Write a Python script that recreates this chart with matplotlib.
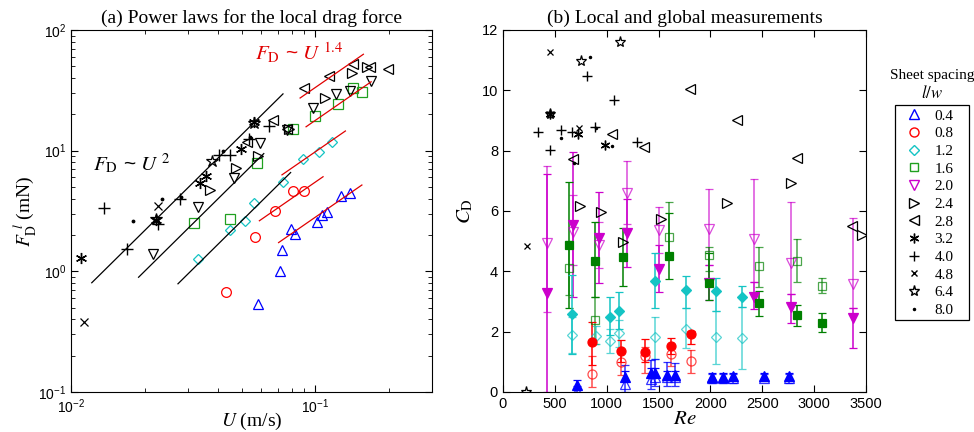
import numpy as np
import matplotlib
matplotlib.use('Agg')
import matplotlib.pyplot as plt
from matplotlib.lines import Line2D
from matplotlib.patches import Rectangle

plt.rcParams['font.family'] = ['Liberation Sans', 'DejaVu Sans']
plt.rcParams['mathtext.fontset'] = 'stix'
plt.rcParams['xtick.direction'] = 'in'
plt.rcParams['ytick.direction'] = 'in'
plt.rcParams['xtick.top'] = True
plt.rcParams['ytick.right'] = True
serif = ['Liberation Serif', 'DejaVu Serif']

# ---- (a) local drag force vs U, per sheet spacing ----
a_U_04 = [0.0585, 0.0714, 0.0730, 0.0796, 0.0828, 0.1011, 0.1066, 0.1117, 0.1268, 0.1383]
a_F_04 = [0.535, 1.00, 1.50, 2.23, 2.04, 2.58, 2.93, 3.12, 4.22, 4.49]
a_U_08 = [0.0431, 0.0567, 0.0681, 0.0813, 0.0901]
a_F_08 = [0.67, 1.94, 3.18, 4.66, 4.66]
a_U_12 = [0.0330, 0.0448, 0.0517, 0.0559, 0.0737, 0.0886, 0.1033, 0.1165]
a_F_12 = [1.26, 2.20, 2.63, 3.66, 5.54, 8.5, 9.8, 11.9]
a_U_16 = [0.0320, 0.0446, 0.0577, 0.0807, 0.0994, 0.1237, 0.1423, 0.1551]
a_F_16 = [2.50, 2.72, 7.87, 15.1, 19.4, 24.5, 33.0, 30.4]
a_U_20 = [0.0216, 0.0332, 0.0463, 0.0595, 0.0765, 0.0982, 0.1217, 0.1389, 0.1695]
a_F_20 = [1.39, 3.43, 5.9, 11.5, 14.7, 22.5, 29.3, 31.5, 37.9]
a_U_24 = [0.0371, 0.0474, 0.0585, 0.0780, 0.1100, 0.1412, 0.1630]
a_F_24 = [4.73, 7.25, 9.1, 15.0, 27.3, 43.6, 49.0]
a_U_28 = [0.0526, 0.0670, 0.0765, 0.0900, 0.1134, 0.1423, 0.1673, 0.1976]
a_F_28 = [11.9, 17.8, 15.1, 33.0, 41.9, 52.0, 49.2, 47.4]
a_U_32 = [0.0110, 0.0223, 0.0336, 0.0357, 0.0497, 0.0563]
a_F_32 = [1.28, 2.66, 5.37, 6.2, 10.3, 17.4]
a_U_40 = [0.01365, 0.01692, 0.0226, 0.0280, 0.0405, 0.0446, 0.0533, 0.0643]
a_F_40 = [3.33, 1.52, 2.47, 3.98, 9.2, 9.2, 12.5, 16.1]
a_U_48 = [0.0113, 0.0226]
a_F_48 = [0.377, 3.45]
a_U_64 = [0.0223, 0.0377, 0.0563]
a_F_64 = [2.70, 8.25, 17.1]
a_U_80 = [0.0179, 0.0235, 0.0282, 0.0418, 0.0541]
a_F_80 = [2.63, 3.97, 4.16, 9.97, 13.1]

# fitted power laws F = C*U^n over a U range
fit2_C = [5437, 2500, 1050]
fit2_U0 = [0.01216, 0.0189, 0.0274]
fit2_U1 = [0.0737, 0.0615, 0.0792]
fit14_C = [839, 448, 246, 138, 70.6]
fit14_U0 = [0.0866, 0.0916, 0.0730, 0.0590, 0.0707]
fit14_U1 = [0.1572, 0.1691, 0.1327, 0.1075, 0.1550]

# ---- (b) drag coefficient vs Re ----
# colored series: open = global, filled = local; bars given as low/high ends
b_Re_04 = [717, 1176, 1427, 1466, 1584, 1659, 2013, 2119, 2221, 2517, 2758]
b_o04 = [0.03, 0.25, 0.42, 0.51, 0.49, 0.50, 0.45, 0.45, 0.45, 0.48, 0.45]
b_o04_lo = [0.0, 0.0, 0.1, 0.2, 0.2, 0.2, 0.3, 0.3, 0.3, 0.35, 0.3]
b_o04_hi = [0.2, 0.9, 1.05, 1.1, 1.0, 0.95, 0.6, 0.6, 0.6, 0.6, 0.6]
b_f04 = [0.23, 0.51, 0.64, 0.64, 0.56, 0.56, 0.51, 0.51, 0.53, 0.53, 0.53]
b_f04_lo = [0.1, 0.35, 0.5, 0.5, 0.4, 0.4, 0.4, 0.4, 0.4, 0.42, 0.4]
b_f04_hi = [0.4, 0.7, 0.8, 0.8, 0.7, 0.7, 0.62, 0.62, 0.64, 0.64, 0.64]

b_Re_08 = [861, 1138, 1369, 1617, 1810]
b_o08 = [0.60, 1.01, 1.19, 1.26, 1.03]
b_o08_lo = [0.18, 0.56, 0.62, 0.86, 0.62]
b_o08_hi = [1.2, 1.4, 1.5, 1.5, 1.4]
b_f08 = [1.67, 1.36, 1.34, 1.52, 1.91]
b_f08_lo = [0.9, 1.0, 1.0, 1.25, 1.6]
b_f08_hi = [2.33, 1.72, 1.75, 1.78, 2.02]

b_Re_o12 = [662, 897, 1032, 1122, 1466, 1765, 2054, 2308]
b_o12 = [1.89, 1.86, 1.70, 1.97, 1.81, 2.08, 1.81, 1.80]
b_o12_lo = [1.3, 1.6, 1.28, 1.5, 1.08, 1.45, 0.93, 0.75]
b_o12_hi = [2.5, 2.2, 2.1, 2.4, 2.5, 2.77, 2.69, 2.83]
b_Re_f12 = [662, 1032, 1122, 1466, 1765, 2054, 2308]
b_f12 = [2.58, 2.48, 2.69, 3.68, 3.38, 3.36, 3.14]
b_f12_lo = [1.26, 1.9, 2.1, 2.8, 2.77, 2.69, 2.83]
b_f12_hi = [3.88, 3.16, 3.33, 4.6, 3.84, 3.77, 3.52]

b_Re_o16 = [640, 887, 1604, 1990, 2469, 2838, 3079]
b_o16 = [4.10, 2.39, 5.13, 4.54, 4.18, 4.35, 3.52]
b_o16_lo = [3.2, 1.6, 4.5, 4.0, 3.49, 3.64, 3.27]
b_o16_hi = [5.0, 3.15, 6.31, 4.8, 4.82, 5.07, 3.79]
b_Re_f16 = [640, 887, 1154, 1604, 1990, 2469, 2838, 3079]
b_f16 = [4.87, 4.35, 4.49, 4.51, 3.60, 2.96, 2.55, 2.30]
b_f16_lo = [2.79, 3.15, 3.51, 3.74, 3.05, 2.52, 2.19, 2.0]
b_f16_hi = [6.97, 5.64, 5.42, 5.93, 4.6, 3.36, 2.88, 2.61]

b_Re_20 = [427, 678, 929, 1193, 1507, 1990, 2420, 2774, 3378]
b_o20 = [4.93, 5.31, 4.87, 6.59, 5.37, 5.39, 5.07, 4.27, 3.58]
b_o20_lo = [2.66, 4.2, 4.1, 5.56, 4.6, 4.2, 3.66, 3.24, 2.77]
b_o20_hi = [7.49, 6.53, 5.62, 7.66, 6.14, 6.72, 7.06, 6.31, 5.76]
b_f20 = [3.29, 5.53, 5.09, 5.28, 4.07, 3.62, 3.16, 2.81, 2.44]
b_f20_lo = [0.0, 3.14, 3.62, 4.13, 3.32, 3.05, 2.74, 2.30, 1.47]
b_f20_hi = [7.22, 7.94, 6.62, 6.4, 4.87, 4.2, 3.66, 3.24, 2.77]

# black series (no error bars)
b_Re_24 = [740, 948, 1160, 1527, 2163, 2780, 3465]
b_C_24 = [6.17, 5.96, 4.98, 5.73, 6.25, 6.92, 5.20]
b_Re_28 = [672, 1051, 1357, 1803, 2254, 2838, 3368]
b_C_28 = [7.71, 8.55, 8.13, 10.03, 9.00, 7.75, 5.50]
b_Re_32 = [450, 720, 987]
b_C_32 = [9.21, 8.54, 8.19]
b_Re_40 = [338, 456, 562, 665, 810, 890, 1067, 1292]
b_C_40 = [8.61, 8.02, 8.68, 8.63, 10.48, 8.79, 9.68, 8.28]
b_Re_48 = [228, 450, 456, 730]
b_C_48 = [4.85, 9.20, 11.28, 8.76]
b_Re_64 = [222, 450, 752, 1131]
b_C_64 = [0.0, 9.22, 10.97, 11.59]
b_Re_80 = [562, 680, 836, 900, 1051]
b_C_80 = [8.43, 7.60, 11.11, 8.75, 8.15]

spacing_labels = ['0.4', '0.8', '1.2', '1.6', '2.0', '2.4', '2.8', '3.2', '4.0', '4.8', '6.4', '8.0']
blue, red, cyan, green, magenta = '#0000ff', '#ff0000', '#14c4c4', '#008000', '#cc00cc'
asterisk = (6, 2, 0)

fig = plt.figure(figsize=(9.74, 4.32), dpi=100)
ax1 = fig.add_axes([0.0729, 0.0926, 0.3706, 0.838])
ax2 = fig.add_axes([0.5164, 0.0926, 0.3727, 0.838])

#(a)
def opn(ax, U, F, m, c, ms=7.5):
    ax.plot(U, F, m, ls='none', ms=ms, mfc='none', mec=c, mew=0.9)

opn(ax1, a_U_04, a_F_04, '^', blue)
opn(ax1, a_U_08, a_F_08, 'o', red, 7)
opn(ax1, a_U_12, a_F_12, 'D', cyan, 5.5)
opn(ax1, a_U_16, a_F_16, 's', '#20a020', 6.5)
opn(ax1, a_U_20, a_F_20, 'v', 'k')
opn(ax1, a_U_24, a_F_24, '>', 'k')
opn(ax1, a_U_28, a_F_28, '<', 'k')
ax1.plot(a_U_32, a_F_32, marker=asterisk, ls='none', ms=8, color='k', mew=1)
ax1.plot(a_U_40, a_F_40, '+', ls='none', ms=8, color='k', mew=1)
ax1.plot(a_U_48, a_F_48, 'x', ls='none', ms=5.5, color='k', mew=0.9)
opn(ax1, a_U_64, a_F_64, '*', 'k', 9)
ax1.plot(a_U_80, a_F_80, '.', ls='none', ms=3.5, color='k')

for C, u0, u1 in zip(fit2_C, fit2_U0, fit2_U1):
    u = np.array([u0, u1])
    ax1.plot(u, C * u**2, color='k', lw=0.9)
for C, u0, u1 in zip(fit14_C, fit14_U0, fit14_U1):
    u = np.array([u0, u1])
    ax1.plot(u, C * u**1.4, color='#e00000', lw=0.9)

ax1.set_xscale('log')
ax1.set_yscale('log')
ax1.set_xlim(0.01, 0.3)
ax1.set_ylim(0.1, 100)
ax1.tick_params(which='both', labelsize=10)
ax1.tick_params(which='major', length=5)
ax1.tick_params(which='minor', length=3)
ax1.tick_params(axis='x', which='major', pad=4)
ax1.set_title('(a) Power laws for the local drag force', fontsize=14, family=serif, pad=5)
ax1.set_xlabel('$U$ (m/s)', fontsize=14, family=serif)
ax1.xaxis.set_label_coords(0.5, -0.052)
ax1.set_ylabel(r'$F_{\rm D}^{\;\,l}$ (mN)', fontsize=14, family=serif)
ax1.yaxis.set_label_coords(-0.088, 0.5)
ax1.text(0.06, 0.61, r'$F_{\rm D}$ ~ $U^{\;\rm 2}$', transform=ax1.transAxes, fontsize=15)
ax1.text(0.51, 0.915, r'$F_{\rm D}$ ~ $U^{\;\rm 1.4}$', transform=ax1.transAxes, fontsize=15, color='#e00000')

#(b)
def eb(ax, x, y, lo, hi, m, c, filled, ms=6.5, alpha=1.0):
    y = np.array(y)
    yerr = [y - np.array(lo), np.array(hi) - y]
    ax.errorbar(x, y, yerr=yerr, fmt=m, ms=ms, mfc=c if filled else 'none', mec=c, mew=0.9,
                ecolor=c, elinewidth=1.1, capsize=3, capthick=1.0, alpha=alpha)

eb(ax2, b_Re_20, b_o20, b_o20_lo, b_o20_hi, 'v', magenta, False, alpha=0.7)
eb(ax2, b_Re_20, b_f20, b_f20_lo, b_f20_hi, 'v', magenta, True)
eb(ax2, b_Re_o16, b_o16, b_o16_lo, b_o16_hi, 's', green, False, 6, alpha=0.7)
eb(ax2, b_Re_f16, b_f16, b_f16_lo, b_f16_hi, 's', green, True, 6)
eb(ax2, b_Re_o12, b_o12, b_o12_lo, b_o12_hi, 'D', cyan, False, 5.5, alpha=0.7)
eb(ax2, b_Re_f12, b_f12, b_f12_lo, b_f12_hi, 'D', cyan, True, 5.5)
eb(ax2, b_Re_08, b_o08, b_o08_lo, b_o08_hi, 'o', red, False, alpha=0.7)
eb(ax2, b_Re_08, b_f08, b_f08_lo, b_f08_hi, 'o', red, True)
eb(ax2, b_Re_04, b_o04, b_o04_lo, b_o04_hi, '^', blue, False, alpha=0.8)
eb(ax2, b_Re_04, b_f04, b_f04_lo, b_f04_hi, '^', blue, True)

opn(ax2, b_Re_24, b_C_24, '>', 'k', 6.5)
opn(ax2, b_Re_28, b_C_28, '<', 'k', 6.5)
ax2.plot(b_Re_32, b_C_32, marker=asterisk, ls='none', ms=7, color='k', mew=1)
ax2.plot(b_Re_40, b_C_40, '+', ls='none', ms=7, color='k', mew=1)
ax2.plot(b_Re_48, b_C_48, 'x', ls='none', ms=5, color='k', mew=0.9)
opn(ax2, b_Re_64, b_C_64, '*', 'k', 8)
ax2.plot(b_Re_80, b_C_80, '.', ls='none', ms=3, color='k')

ax2.set_xlim(0, 3500)
ax2.set_ylim(0, 12)
ax2.set_xticks(np.arange(0, 3501, 500))
ax2.set_yticks(np.arange(0, 13, 2))
ax2.tick_params(labelsize=10.5, length=5)
ax2.set_title('(b) Local and global measurements', fontsize=14, family=serif, pad=5)
ax2.set_xlabel('$Re$', fontsize=15)
ax2.xaxis.set_label_coords(0.5, -0.048)
ax2.set_ylabel(r'$C_{\rm D}$', fontsize=15)
ax2.yaxis.set_label_coords(-0.078, 0.5)

# legend outside panel (b), frame drawn as a separate box
handles = [
    Line2D([], [], marker='^', ls='none', ms=7, mfc='none', mec=blue),
    Line2D([], [], marker='o', ls='none', ms=6.5, mfc='none', mec=red),
    Line2D([], [], marker='D', ls='none', ms=5, mfc='none', mec=cyan),
    Line2D([], [], marker='s', ls='none', ms=5.5, mfc='none', mec='#20a020'),
    Line2D([], [], marker='v', ls='none', ms=7, mfc='none', mec=magenta),
    Line2D([], [], marker='>', ls='none', ms=7, mfc='none', mec='k'),
    Line2D([], [], marker='<', ls='none', ms=7, mfc='none', mec='k'),
    Line2D([], [], marker=asterisk, ls='none', ms=7, color='k'),
    Line2D([], [], marker='+', ls='none', ms=7, color='k'),
    Line2D([], [], marker='x', ls='none', ms=5, color='k'),
    Line2D([], [], marker='*', ls='none', ms=8, mfc='none', mec='k'),
    Line2D([], [], marker='.', ls='none', ms=3, color='k'),
]
fig.legend(handles, spacing_labels, loc='upper left', bbox_to_anchor=(0.924, 0.758),
           prop={'family': serif, 'size': 11}, frameon=False,
           handlelength=1.2, handletextpad=0.75, labelspacing=0.26,
           borderpad=0.3, borderaxespad=0)
fig.patches.append(Rectangle((0.919, 0.259), 0.076, 0.498, transform=fig.transFigure,
                             fill=False, edgecolor='k', lw=0.9))
fig.text(0.957, 0.825, 'Sheet spacing', ha='center', va='center', fontsize=11, family=serif)
fig.text(0.957, 0.785, '$l/w$', ha='center', va='center', fontsize=12)

plt.savefig('out.png', dpi=100)
